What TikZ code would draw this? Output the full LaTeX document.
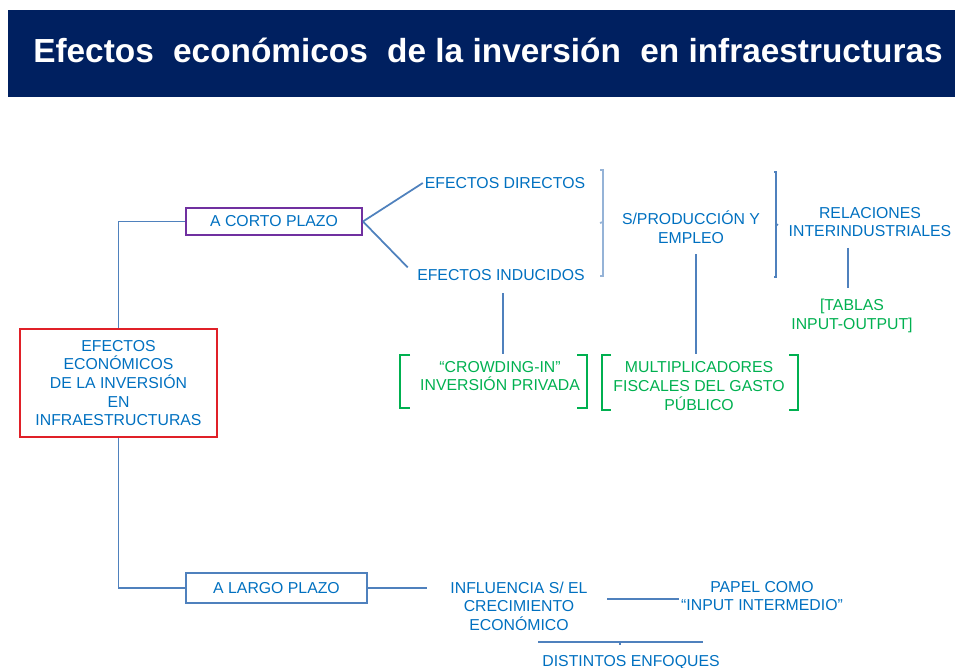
\documentclass[tikz,border=0pt]{standalone}
\usepackage{fontspec}
\setmainfont{Liberation Sans}
\usetikzlibrary{positioning}
\definecolor{azulfondo}{RGB}{0,32,96}
\definecolor{azultexto}{RGB}{0,112,192}
\definecolor{azullinea}{RGB}{79,129,189}
\definecolor{azulclaro}{RGB}{149,179,215}
\definecolor{verde}{RGB}{0,176,80}
\definecolor{rojo}{RGB}{224,32,40}
\definecolor{morado}{RGB}{112,48,160}
\begin{document}
\begin{tikzpicture}[x=0.02cm, y=-0.02cm,
	texto/.style={font=\fontsize{9}{10.6}\selectfont, text=azultexto, align=center, inner sep=1pt},
	textoverde/.style={texto, text=verde},
	linea/.style={azullinea, line width=1pt},
	corchete/.style={verde, line width=1.1pt},
	caja/.style={texto, draw, line width=1.1pt}]
	\useasboundingbox (0,0) rectangle (955,668);
	% banda del titulo
	\fill [azulfondo] (8,10) rectangle (955,97);
	\node [text=white, font=\fontsize{19}{22}\selectfont\bfseries] (titulo) at (488,50)
		{Efectos\hspace{0.3em} económicos\hspace{0.3em} de la inversión\hspace{0.3em} en infraestructuras};
	% cajas
	\node [caja, draw=rojo, minimum width=3.94cm, minimum height=2.16cm] (efectos) at (118.5,383)
		{EFECTOS\\ECONÓMICOS\\DE LA INVERSIÓN\\EN\\INFRAESTRUCTURAS};
	\node [caja, draw=morado, minimum width=3.52cm, minimum height=0.54cm] (corto) at (274,221.5) {A CORTO PLAZO};
	\node [caja, draw=azullinea, minimum width=3.62cm, minimum height=0.6cm] (largo) at (276.5,588) {A LARGO PLAZO};
	% corto plazo
	\node [texto] (directos) at (505,183) {EFECTOS DIRECTOS};
	\node [texto] (inducidos) at (501,275) {EFECTOS INDUCIDOS};
	\node [texto] (produccion) at (691,227) {S/PRODUCCIÓN Y\\EMPLEO};
	\node [texto] (relaciones) at (870,222) {RELACIONES\\INTERINDUSTRIALES};
	\node [textoverde] (tablas) at (852,316) {[TABLAS\\INPUT-OUTPUT]};
	\node [textoverde] (crowding) at (500,376) {“CROWDING-IN”\\INVERSIÓN PRIVADA};
	\node [textoverde] (multiplicadores) at (699,386) {MULTIPLICADORES\\FISCALES DEL GASTO\\PÚBLICO};
	% largo plazo
	\node [texto] (influencia) at (519,606) {INFLUENCIA S/ EL\\CRECIMIENTO\\ECONÓMICO};
	\node [texto] (papel) at (762,596) {PAPEL COMO\\“INPUT INTERMEDIO”};
	\node [texto] (enfoques) at (631,662) {DISTINTOS ENFOQUES};
	% llaves
	\draw [azulclaro, line width=1pt] (600,170) -- (603,170) -- (603,276) -- (600,276);
	\draw [azulclaro, line width=1pt] (603,222) -- (600,223);
	\draw [linea] (774,172) -- (776,172) -- (776,277) -- (774,277);
	\draw [linea] (776,224) -- (778,225);
	% corchetes verdes
	\draw [corchete] (410,355) -- (400,355) -- (400,408) -- (410,408);
	\draw [corchete] (577,355) -- (587,355) -- (587,408) -- (577,408);
	\draw [corchete] (611,355) -- (602,355) -- (602,410) -- (611,410);
	\draw [corchete] (789,355) -- (798,355) -- (798,410) -- (789,410);
	\coordinate (crowdingtop) at (503,354);
	\coordinate (multitop) at (696,354);
	\coordinate (enfoquesA) at (538,642);
	\coordinate (enfoquesB) at (703,642);
	% conectores
	\draw [linea] (efectos.north) |- (corto.west);
	\draw [linea] (efectos.south) |- (largo.west);
	\draw [linea] (corto.east) -- (directos.west);
	\draw [linea, shorten >=6pt] (corto.east) -- (inducidos.west);
	\draw [linea, shorten <=6pt] (inducidos.south -| crowdingtop) -- (crowdingtop);
	\draw [linea, shorten <=5pt] (produccion.south -| multitop) -- (multitop);
	\draw [linea, shorten <=5pt, shorten >=5pt] (relaciones.south -| 848,0) -- (tablas.north -| 848,0);
	\draw [linea, shorten >=12pt] (largo.east) -- (influencia.west |- largo.east);
	\draw [linea, shorten <=10pt] (influencia.east |- 0,599) -- (papel.west |- 0,599);
	\draw [linea] (enfoquesA) -- (enfoquesB);
	\draw [linea] (620,642) -- (620,645);
\end{tikzpicture}
\end{document}
